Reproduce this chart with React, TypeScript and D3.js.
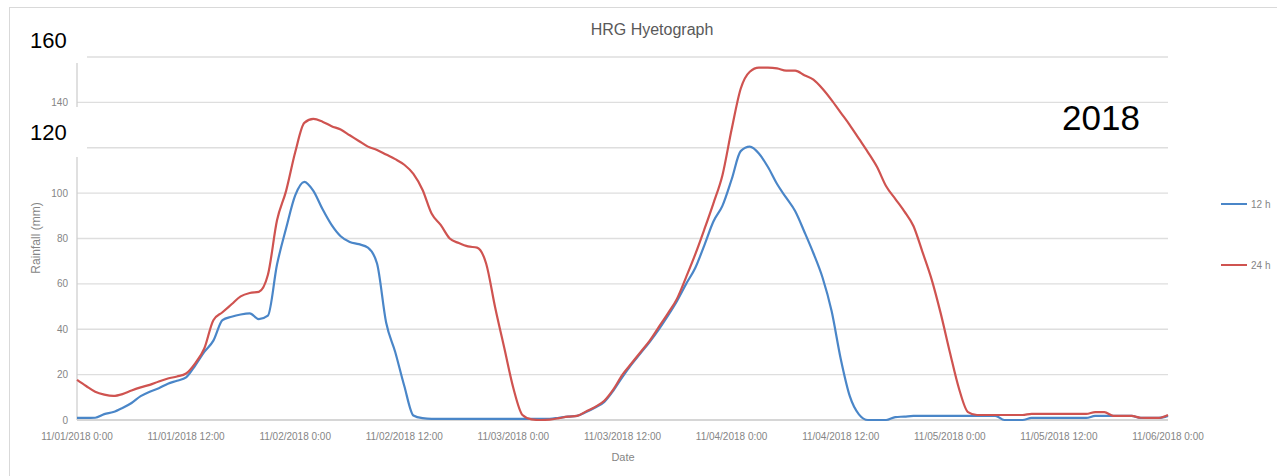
import * as React from 'react';
import * as d3 from 'd3';

// hourly rainfall accumulations, 11/01/2018 0:00 -> 11/06/2018 0:00 (121 points)
const rain12h = [
  0.9, 0.9, 1.0, 2.6, 3.5, 5.3, 7.5, 10.5, 12.5, 14, 16, 17.3, 18.8, 24, 30, 35, 44, 45.5, 46.5, 47,
  44.5, 46, 68.5, 84.5, 99, 105, 101, 93, 86, 81, 78.5, 77.5, 76, 69, 43, 30, 15, 2, 0.8, 0.5,
  0.5, 0.5, 0.5, 0.5, 0.5, 0.5, 0.5, 0.5, 0.5, 0.5, 0.5, 0.5, 0.5, 1.0, 1.5, 1.8, 3.5, 5.5, 8, 13,
  19, 24.5, 29.5, 34.5, 40, 46, 52.5, 60, 67, 77, 87.5, 94.5, 106, 118.5, 120.5, 117.5, 111.5, 104, 98, 92,
  83, 73.5, 62.8, 48, 27, 10.5, 2.5, 0, 0, 0, 1.3, 1.5, 1.8, 1.8, 1.8, 1.8, 1.8, 1.8, 1.8, 1.8,
  1.8, 1.8, 0, 0, 0, 0.9, 0.9, 0.9, 0.9, 0.9, 0.9, 0.9, 1.8, 1.8, 1.8, 1.8, 1.8, 0.9, 0.9, 0.9,
  1.8,
];
const rain24h = [
  17.7, 15, 12.5, 11.2, 10.6, 11.4, 13, 14.4, 15.5, 17, 18.3, 19.2, 20.5, 25, 31.5, 44, 47.5, 51, 54.5, 56,
  56.5, 64, 88, 101, 118, 131, 132.7, 131.5, 129.5, 128, 125.5, 123, 120.5, 119, 117, 115, 112.5, 108.5, 101.5, 91,
  86, 80, 78, 76.5, 76, 69, 49.5, 31.7, 14, 2.2, 0.3, 0, 0.2, 0.8, 1.5, 1.8, 3.8, 5.8, 8.5, 13.5,
  20, 25, 30, 35, 41, 47, 53.5, 63, 73, 84, 95.5, 108, 128, 146, 153.5, 155.3, 155.3, 155, 154, 154,
  152, 150, 146, 141, 135.5, 130, 124, 118, 111.5, 103, 97.5, 92, 85.5, 74, 62, 47, 30, 14, 3.5, 2.2,
  2.2, 2.2, 2.2, 2.2, 2.2, 2.7, 2.7, 2.7, 2.7, 2.7, 2.7, 2.7, 3.5, 3.5, 1.8, 1.8, 1.8, 1.0, 0.9, 0.9,
  2.2,
];
const xTickHours = [0, 12, 24, 36, 48, 60, 72, 84, 96, 108, 120];
const xTickLabels = [
  '11/01/2018 0:00', '11/01/2018 12:00', '11/02/2018 0:00', '11/02/2018 12:00', '11/03/2018 0:00',
  '11/03/2018 12:00', '11/04/2018 0:00', '11/04/2018 12:00', '11/05/2018 0:00', '11/05/2018 12:00',
  '11/06/2018 0:00',
];
const yTicks = [0, 20, 40, 60, 80, 100, 120, 140, 160];
// 120 and 160 labels are pasted over by larger annotation text
const yTickLabels = ['0', '20', '40', '60', '80', '100', '', '140', ''];
const seriesNames = ['12 h', '24 h'];
const seriesColors = ['#4a86c8', '#cf5350'];

export default function App() {
  const width = 1277;
  const height = 476;
  const x = d3.scaleLinear().domain([0, 120]).range([77, 1168]);
  const y = d3.scaleLinear().domain([0, 160]).range([420, 57]);
  const line = d3
    .line<number>()
    .x((_, i) => x(i))
    .y((d) => y(d))
    .curve(d3.curveMonotoneX);
  const series = [rain12h, rain24h];
  const font = '"Liberation Sans", Arial, sans-serif';
  const grey = '#858585';

  return (
    <svg
      width={width}
      height={height}
      style={{ position: 'absolute', left: 0, top: 0, background: '#fff' }}
      fontFamily={font}
    >
      <rect x={0} y={0} width={width} height={height} fill="#fff" />
      {/* chart border */}
      <rect x={9.5} y={7.5} width={1300} height={500} fill="none" stroke="#d9d9d9" />
      <text x={652} y={35} textAnchor="middle" fontSize={16} fill="#595959">
        HRG Hyetograph
      </text>

      {/* gridlines */}
      {yTicks.map((t) => (
        <line key={t} x1={x(0)} x2={x(120)} y1={y(t)} y2={y(t)} stroke="#dedede" strokeWidth={1.3} />
      ))}
      <line x1={x(0)} x2={x(0)} y1={y(160)} y2={y(0)} stroke="#d0d0d0" strokeWidth={1.3} />
      <line x1={x(0)} x2={x(120)} y1={y(0)} y2={y(0)} stroke="#d0d0d0" strokeWidth={1.5} />

      {/* y ticks */}
      {yTicks.map((t, i) =>
        yTickLabels[i] ? (
          <text key={t} x={68} y={y(t) + 3.5} textAnchor="end" fontSize={10} fill={grey}>
            {yTickLabels[i]}
          </text>
        ) : null,
      )}
      <text
        transform={`translate(40, 238) rotate(-90)`}
        textAnchor="middle"
        fontSize={12}
        fill={grey}
      >
        Rainfall (mm)
      </text>

      {/* x ticks */}
      {xTickHours.map((h, i) => (
        <text key={h} x={x(h)} y={440} textAnchor="middle" fontSize={10} fill={grey}>
          {xTickLabels[i]}
        </text>
      ))}
      <text x={623} y={461} textAnchor="middle" fontSize={11} fill={grey}>
        Date
      </text>

      {/* series */}
      {series.map((s, i) => (
        <path
          key={i}
          d={line(s) || ''}
          fill="none"
          stroke={seriesColors[i]}
          strokeWidth={2.2}
          strokeLinejoin="round"
        />
      ))}

      {/* legend */}
      {seriesNames.map((n, i) => (
        <g key={n} transform={`translate(1221, ${204 + i * 61})`}>
          <line x1={0} x2={26} y1={0} y2={0} stroke={seriesColors[i]} strokeWidth={2} />
          <text x={30} y={3.5} fontSize={10} fill={grey}>
            {n}
          </text>
        </g>
      ))}

      {/* overlay annotations */}
      <rect x={11} y={20} width={76} height={43} fill="#fff" />
      <rect x={11} y={107} width={76} height={50} fill="#fff" />
      <text x={30} y={48} fontSize={22} fill="#000">
        160
      </text>
      <text x={30} y={140} fontSize={22} fill="#000">
        120
      </text>
      <text x={1062} y={130} fontSize={35} fill="#000">
        2018
      </text>
    </svg>
  );
}
